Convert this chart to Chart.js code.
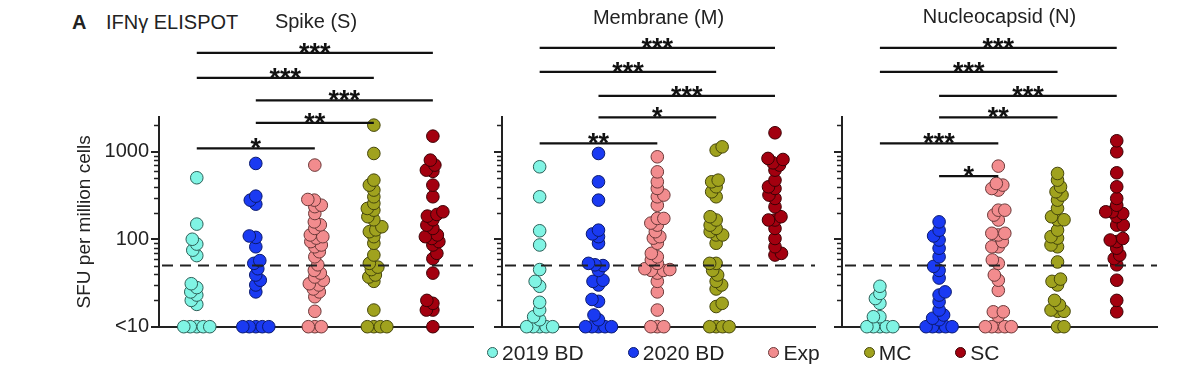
<!DOCTYPE html>
<html>
<head>
<meta charset="utf-8">
<script src="https://cdn.jsdelivr.net/npm/chart.js@4.4.1/dist/chart.umd.min.js"></script>
<style>
  html, body { margin: 0; padding: 0; background: #fff; }
  #wrap { position: relative; width: 1200px; height: 371px; overflow: hidden;
          font-family: "Liberation Sans", Arial, sans-serif; color: #222; }
  #wrap canvas { position: absolute; left: 0; top: 0; }
  .hdr { position: absolute; white-space: nowrap; font-size: 20px; line-height: 20px; }
  #legend { position: absolute; left: 487px; top: 342px; display: flex; gap: 44px;
            font-size: 21px; line-height: 21px; align-items: center; }
  #legend .item { display: flex; align-items: center; }
  #legend .dot { width: 11px; height: 11px; border-radius: 50%; margin-right: 4px; box-sizing: border-box; border: 1px solid #333; }
</style>
</head>
<body>
<div id="wrap">
  <div class="hdr" style="left:72px;top:12px;font-weight:bold;">A</div>
  <div class="hdr" style="left:106px;top:12px;">IFNγ ELISPOT</div>
  <canvas id="c0" width="1200" height="371"></canvas>
  <canvas id="c1" width="1200" height="371"></canvas>
  <canvas id="c2" width="1200" height="371"></canvas>
  <div id="legend"></div>
</div>
<script>
// ---------------- data ----------------
const groupNames = ['2019 BD', '2020 BD', 'Exp', 'MC', 'SC'];
const panelTitles = ['Spike (S)', 'Membrane (M)', 'Nucleocapsid (N)'];
const yAxisTitle = 'SFU per million cells';
const yTickValues = [10, 100, 1000];
const yTickLabels = ['<10', '100', '1000'];
const yMinorTickValues = [20, 30, 40, 50, 60, 70, 80, 90, 200, 300, 400, 500, 600, 700, 800, 900, 2000];
const positivityCutoff = 50;

// Spike (S)
const spike2019BD = [505, 149, 100, 88, 75, 65, 31, 28, 25, 23, 20, 18, 10, 10, 10, 10, 10];
const spike2020BD = [736, 311, 280, 252, 109, 105, 82, 57, 53, 46, 39, 34, 30, 25, 10, 10, 10, 10, 10];
const spikeExp = [705, 285, 280, 245, 236, 197, 158, 146, 133, 112, 107, 103, 94, 86, 82, 72, 63, 51, 44, 41, 37, 34, 31, 30, 27, 25, 22, 15, 10, 10, 10];
const spikeMC = [2018, 957, 474, 416, 365, 306, 257, 225, 215, 181, 167, 139, 128, 122, 107, 90, 66, 53, 48, 45, 39, 37, 33, 15.5, 10, 10, 10, 10];
const spikeSC = [1510, 803, 705, 617, 598, 416, 306, 206, 192, 184, 167, 145, 133, 112, 107, 102, 94, 86, 69, 60, 41, 20, 18.5, 15.5, 15.5, 10];

// Membrane (M)
const membrane2019BD = [674, 306, 125, 86, 45, 33, 29, 19, 15.5, 13, 12, 10, 10, 10, 10, 10];
const membrane2020BD = [957, 454, 280, 127, 115, 107, 90, 53, 51, 50, 44, 34, 33, 30, 20.5, 19.5, 13.6, 12, 10, 10, 10, 10, 10];
const membraneExp = [877, 590, 454, 381, 320, 306, 245, 173, 173, 153, 145, 122, 107, 103, 90, 69, 63, 58, 53, 46, 45, 44, 44, 41, 33, 25, 15.5, 10, 10, 10];
const membraneMC = [1140, 1045, 474, 454, 398, 349, 306, 181, 166, 145, 133, 122, 112, 112, 90, 53, 53, 44, 39, 33, 30, 27, 18.5, 17, 10, 10, 10, 10];
const membraneSC = [1650, 840, 817, 748, 705, 617, 474, 398, 381, 320, 293, 235, 181, 166, 166, 133, 102, 82, 69, 66];

// Nucleocapsid (N)
const nucleo2019BD = [29, 24, 21, 18.5, 13, 13, 10, 10, 10, 10, 10];
const nucleo2020BD = [158, 127, 109, 98, 79, 63, 49, 44, 36, 25, 23, 19.3, 15.5, 13.6, 12.5, 12, 10, 10, 10, 10, 10];
const nucleoExp = [686, 434, 416, 380, 365, 215, 215, 189, 166, 117, 117, 112, 94, 82, 82, 58, 53, 39, 34, 26, 14.8, 14.8, 13.2, 10, 10, 10, 10, 10];
const nucleoMC = [565, 474, 398, 349, 320, 280, 225, 181, 167, 167, 127, 107, 103, 86, 82, 55, 35, 33, 30, 20, 17.7, 15.5, 15, 15, 10, 10];
const nucleoSC = [1337, 1000, 575, 398, 293, 245, 206, 206, 197, 181, 145, 145, 102, 98, 94, 79, 66, 60, 51, 34, 20, 14.8];

// significance comparisons: [group a, group b, label], listed from the lowest bar up
const spikeStats = [[0, 2, '*'], [1, 3, '**'], [1, 4, '***'], [0, 3, '***'], [0, 4, '***']];
const membraneStats = [[0, 2, '**'], [1, 3, '*'], [1, 4, '***'], [0, 3, '***'], [0, 4, '***']];
const nucleoStats = [[1, 2, '*'], [0, 2, '***'], [1, 3, '**'], [1, 4, '***'], [0, 3, '***'], [0, 4, '***']];

// ---------------- style ----------------
const FONT = '"Liberation Sans", Arial, sans-serif';
const INK = '#222';
const groupFill = ['#80f4e4', '#1a3af2', '#f28c8e', '#a0a21e', '#a3000f'];
const groupEdge = ['#2d5e57', '#0b1a6e', '#6b3939', '#45460c', '#3c0005'];
const SWARM_GAP = 6.5;
const panelStyle = [
  { yWidth: 159, padRight: 727, titleTop: 10.2, labels: true,
    barLevels: [1094, 2143, 3866, 7010, 13520] },
  { yWidth: 502, padRight: 385, titleTop: 6.3, labels: false,
    barLevels: [1247, 2470, 4365, 8200, 15460] },
  { yWidth: 842, padRight: 43, titleTop: 5, labels: false,
    barLevels: [527, 1247, 2470, 4365, 8200, 15460] }
];

const panelSeries = [
  [spike2019BD, spike2020BD, spikeExp, spikeMC, spikeSC],
  [membrane2019BD, membrane2020BD, membraneExp, membraneMC, membraneSC],
  [nucleo2019BD, nucleo2020BD, nucleoExp, nucleoMC, nucleoSC]
];
const panelStats = [spikeStats, membraneStats, nucleoStats];

// ---------------- plugin: cutoff line, minor ticks, significance bars ----------------
const panelDecor = {
  id: 'panelDecor',
  afterDatasetsDraw(chart, args, opts) {
    const { ctx, chartArea: a, scales: { y } } = chart;
    const yy = y.getPixelForValue(opts.cutoff);
    ctx.save();
    ctx.strokeStyle = INK; ctx.lineWidth = 2; ctx.setLineDash([11, 7]);
    ctx.beginPath(); ctx.moveTo(a.left + 3, yy); ctx.lineTo(a.right, yy); ctx.stroke();
    ctx.restore();
  },
  afterDraw(chart, args, opts) {
    const { ctx, chartArea: a, scales: { x, y } } = chart;
    ctx.save();
    ctx.strokeStyle = INK; ctx.lineWidth = 1.5;
    yMinorTickValues.forEach(v => {
      const py = Math.round(y.getPixelForValue(v)) + 0.5;
      ctx.beginPath(); ctx.moveTo(a.left - 5, py); ctx.lineTo(a.left, py); ctx.stroke();
    });
    ctx.lineWidth = 2.2;
    ctx.fillStyle = '#111';
    ctx.font = 'bold 27px ' + FONT;
    ctx.textAlign = 'center'; ctx.textBaseline = 'alphabetic';
    opts.stats.forEach((s, i) => {
      const py = y.getPixelForValue(opts.levels[i]);
      const x1 = x.getPixelForValue(s[0]), x2 = x.getPixelForValue(s[1]);
      ctx.strokeStyle = '#111';
      ctx.beginPath(); ctx.moveTo(x1, py); ctx.lineTo(x2, py); ctx.stroke();
      ctx.fillText(s[2], (x1 + x2) / 2, py + 9);
    });
    ctx.restore();
  }
};

function buildPanel(i) {
  const st = panelStyle[i];
  return new Chart(document.getElementById('c' + i), {
    type: 'scatter',
    data: {
      datasets: panelSeries[i].map((vals, gi) => ({
        label: groupNames[gi],
        data: vals.map(v => ({ x: gi, y: v })),
        pointBackgroundColor: groupFill[gi],
        pointBorderColor: groupEdge[gi],
        backgroundColor: groupFill[gi],
        borderColor: groupEdge[gi],
        pointRadius: 6.3, pointHoverRadius: 6.3, pointBorderWidth: 1,
        clip: false
      }))
    },
    options: {
      responsive: false, animation: false, events: [],
      layout: { padding: { left: 0, top: 0, right: st.padRight, bottom: 44.3 } },
      scales: {
        x: {
          type: 'linear', min: -0.64, max: 4.68,
          grid: { display: false, drawTicks: false, tickLength: 0 },
          border: { display: true, color: INK, width: 2 },
          ticks: { display: false, padding: 0 }
        },
        y: {
          type: 'logarithmic', min: 10, max: 2500,
          afterBuildTicks: s => { s.ticks = yTickValues.map(v => ({ value: v, major: true })); },
          afterFit: s => { s.width = st.yWidth; },
          grid: { display: true, drawOnChartArea: false, drawTicks: true, tickLength: 8,
                  tickWidth: 2, tickColor: INK, color: INK, lineWidth: 2 },
          border: { display: true, color: INK, width: 2 },
          ticks: {
            display: st.labels, padding: 2, color: INK, font: { size: 20, family: FONT },
            callback: v => { const k = yTickValues.indexOf(v); return k >= 0 ? yTickLabels[k] : ''; }
          },
          title: { display: st.labels, text: yAxisTitle, color: INK,
                   font: { size: 19, family: FONT }, padding: { top: 73.6 } }
        }
      },
      plugins: {
        legend: { display: false },
        tooltip: { enabled: false },
        title: {
          display: true, text: panelTitles[i], fullSize: false, color: INK,
          font: { size: 20, family: FONT, weight: 'normal', lineHeight: 1.2 },
          padding: { top: st.titleTop, bottom: 117 - 24 - st.titleTop }
        },
        panelDecor: { cutoff: positivityCutoff, stats: panelStats[i], levels: st.barLevels }
      }
    },
    plugins: [panelDecor]
  });
}

// simple beeswarm: spread points horizontally so circles overlap only partly
function layoutSwarm(chart, series) {
  const xs = chart.scales.x, ys = chart.scales.y;
  const unit = xs.getPixelForValue(1) - xs.getPixelForValue(0);
  series.forEach((vals, gi) => {
    const items = vals.map((v, k) => ({ v, k, py: ys.getPixelForValue(v) }))
                      .sort((a, b) => b.py - a.py || a.k - b.k);
    const placed = [];
    items.forEach((it, n) => {
      const side = n % 2 ? 1 : -1;
      let off = 0;
      for (let step = 0; step < 600; step++) {
        const cand = step === 0 ? 0 : side * (step % 2 ? 1 : -1) * Math.ceil(step / 2) * 0.5;
        if (placed.every(p => (p.dx - cand) ** 2 + (p.py - it.py) ** 2 >= SWARM_GAP * SWARM_GAP)) {
          off = cand; break;
        }
      }
      placed.push({ dx: off, py: it.py });
      it.x = gi + off / unit;
    });
    chart.data.datasets[gi].data = items.map(it => ({ x: it.x, y: it.v }));
  });
  chart.update('none');
}

const charts = [0, 1, 2].map(buildPanel);
charts.forEach((c, i) => layoutSwarm(c, panelSeries[i]));

// legend
const legend = document.getElementById('legend');
groupNames.forEach((name, gi) => {
  const item = document.createElement('div');
  item.className = 'item';
  const dot = document.createElement('span');
  dot.className = 'dot';
  dot.style.background = groupFill[gi];
  dot.style.borderColor = groupEdge[gi];
  const txt = document.createElement('span');
  txt.textContent = name;
  item.appendChild(dot); item.appendChild(txt);
  legend.appendChild(item);
});
</script>
</body>
</html>
